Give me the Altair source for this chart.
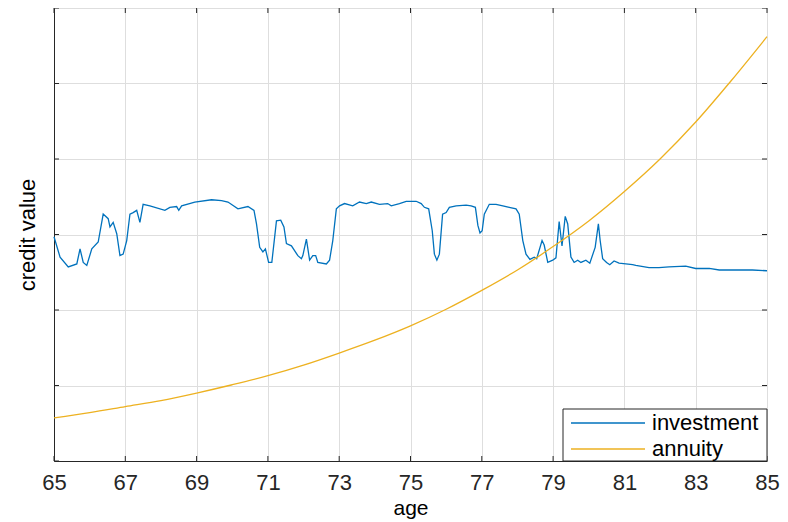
import altair as alt
import pandas as pd

# investment series (age, credit value)
inv_age = [65.00, 65.17, 65.40, 65.64, 65.73, 65.82, 65.92, 66.06, 66.24, 66.38,
           66.52, 66.57, 66.66, 66.76, 66.85, 66.94, 67.04, 67.13, 67.22, 67.32,
           67.41, 67.50, 67.69, 68.11, 68.25, 68.44, 68.50, 68.58, 68.95, 69.42,
           69.70, 69.88, 70.16, 70.44, 70.61, 70.68, 70.77, 70.86, 70.93, 71.02,
           71.11, 71.24, 71.36, 71.45, 71.52, 71.66, 71.84, 71.94, 71.98, 72.08,
           72.17, 72.26, 72.34, 72.40, 72.64, 72.73, 72.82, 72.92, 73.01, 73.15,
           73.38, 73.57, 73.76, 73.90, 74.13, 74.36, 74.46, 74.69, 74.88, 75.16,
           75.30, 75.39, 75.51, 75.61, 75.67, 75.74, 75.81, 75.90, 76.00, 76.09,
           76.28, 76.56, 76.70, 76.82, 76.89, 76.95, 77.01, 77.07, 77.21, 77.40,
           77.59, 77.77, 77.96, 78.05, 78.15, 78.24, 78.35, 78.47, 78.54, 78.69,
           78.75, 78.85, 78.99, 79.08, 79.17, 79.25, 79.34, 79.41, 79.50, 79.59,
           79.69, 79.78, 79.92, 80.03, 80.18, 80.27, 80.32, 80.39, 80.50, 80.59,
           80.71, 80.85, 81.04, 81.23, 81.32, 81.69, 81.97, 82.25, 82.72, 83.00,
           83.38, 83.66, 84.12, 84.59, 85.00]
inv_val = [2.97, 2.70, 2.57, 2.61, 2.81, 2.63, 2.59, 2.81, 2.90, 3.27,
           3.21, 3.10, 3.16, 3.01, 2.72, 2.74, 2.92, 3.27, 3.29, 3.32,
           3.16, 3.40, 3.38, 3.32, 3.36, 3.37, 3.32, 3.38, 3.43, 3.46,
           3.45, 3.43, 3.34, 3.37, 3.32, 3.14, 2.83, 2.77, 2.81, 2.63,
           2.63, 3.18, 3.19, 3.10, 2.88, 2.85, 2.72, 2.68, 2.72, 2.94,
           2.66, 2.72, 2.72, 2.63, 2.61, 2.66, 2.92, 3.34, 3.38, 3.41,
           3.38, 3.43, 3.41, 3.43, 3.40, 3.41, 3.38, 3.41, 3.44, 3.44,
           3.41, 3.36, 3.34, 3.05, 2.74, 2.66, 2.74, 3.27, 3.29, 3.36,
           3.38, 3.39, 3.38, 3.36, 3.12, 3.02, 3.05, 3.27, 3.40, 3.40,
           3.38, 3.36, 3.34, 3.27, 2.92, 2.74, 2.67, 2.70, 2.68, 2.92,
           2.86, 2.63, 2.66, 2.69, 3.17, 2.85, 3.24, 3.14, 2.70, 2.63,
           2.66, 2.63, 2.66, 2.62, 2.83, 3.14, 2.92, 2.68, 2.63, 2.60,
           2.65, 2.62, 2.61, 2.60, 2.59, 2.56, 2.56, 2.57, 2.58, 2.55,
           2.55, 2.53, 2.53, 2.53, 2.52]

# annuity series read at each year
ann_age = list(range(65, 86))
ann_val = [0.57, 0.64, 0.72, 0.80, 0.90, 1.01, 1.13, 1.27, 1.43, 1.60,
           1.79, 2.01, 2.26, 2.53, 2.84, 3.18, 3.57, 4.00, 4.49, 5.04, 5.62]

series_names = ["investment", "annuity"]
series_colors = ["#0072BD", "#EDB120"]

x_ticks = [65, 67, 69, 71, 73, 75, 77, 79, 81, 83, 85]
y_ticks = [0, 1, 2, 3, 4, 5, 6]

W, H = 713, 453
FONT = "Liberation Sans"
AX = "#262626"

inv_df = pd.DataFrame({"age": inv_age, "value": inv_val})
ann_df = pd.DataFrame({"age": ann_age, "value": ann_val})
xt_df = pd.DataFrame({"age": x_ticks})
yt_df = pd.DataFrame({"value": y_ticks})

x_scale = alt.Scale(domain=[65, 85], nice=False, zero=False)
y_scale = alt.Scale(domain=[0, 6], nice=False, zero=False)

x_axis = alt.Axis(values=x_ticks, grid=True, gridColor="#dedede", tickSize=0,
                  labelFont=FONT, labelFontSize=22, labelColor=AX, labelPadding=11,
                  domainColor=AX, title="age", titleFont=FONT, titleFontSize=21,
                  titleFontWeight="normal", titleColor="#000000", titlePadding=4,
                  labelFlush=False)
y_axis = alt.Axis(values=y_ticks, grid=True, gridColor="#dedede", tickSize=0,
                  labels=False, domainColor=AX, title="credit value",
                  titleFont=FONT, titleFontSize=22, titleFontWeight="normal",
                  titleColor="#000000", titlePadding=14)

inv = alt.Chart(inv_df).mark_line(color=series_colors[0], strokeWidth=1.3).encode(
    x=alt.X("age:Q", scale=x_scale, axis=x_axis),
    y=alt.Y("value:Q", scale=y_scale, axis=y_axis),
)
ann = alt.Chart(ann_df).mark_line(color=series_colors[1], strokeWidth=1.3,
                                  interpolate="monotone").encode(
    x=alt.X("age:Q", scale=x_scale, axis=x_axis),
    y=alt.Y("value:Q", scale=y_scale, axis=y_axis),
)

# inward ticks on all four sides
xt_bot = alt.Chart(xt_df).mark_rule(color=AX, strokeWidth=1).encode(
    x=alt.X("age:Q", scale=x_scale, axis=x_axis), y=alt.value(H), y2=alt.value(H - 5))
xt_top = alt.Chart(xt_df).mark_rule(color=AX, strokeWidth=1).encode(
    x=alt.X("age:Q", scale=x_scale, axis=x_axis), y=alt.value(0), y2=alt.value(5))
yt_left = alt.Chart(yt_df).mark_rule(color=AX, strokeWidth=1).encode(
    y=alt.Y("value:Q", scale=y_scale, axis=y_axis), x=alt.value(0), x2=alt.value(5))
yt_right = alt.Chart(yt_df).mark_rule(color=AX, strokeWidth=1).encode(
    y=alt.Y("value:Q", scale=y_scale, axis=y_axis), x=alt.value(W), x2=alt.value(W - 5))

# legend box drawn manually (bottom-right inside the plot)
lg_df = pd.DataFrame({"label": ["legend"]})
lx0, lx1, ly0, ly1 = 509, W, 401, H
leg_box = alt.Chart(lg_df).mark_rect(fill="white", stroke=AX, strokeWidth=1).encode(
    x=alt.value(lx0), x2=alt.value(lx1), y=alt.value(ly0), y2=alt.value(ly1))
layers = [inv, ann, xt_bot, xt_top, yt_left, yt_right, leg_box]
for i, name in enumerate(series_names):
    ypix = 415 + 26 * i
    d = pd.DataFrame({"label": [name]})
    layers.append(alt.Chart(d).mark_rule(color=series_colors[i], strokeWidth=1.3).encode(
        x=alt.value(517), x2=alt.value(591), y=alt.value(ypix)))
    layers.append(alt.Chart(d).mark_text(align="left", baseline="middle", font=FONT,
                                         fontSize=22, color="#000000").encode(
        x=alt.value(598), y=alt.value(ypix), text="label:N"))

chart = alt.layer(*layers).properties(
    width=W, height=H,
    autosize=alt.AutoSizeParams(type="none"),
    padding={"left": 46, "top": 0, "right": 13, "bottom": 60},
).configure_view(stroke=AX, strokeWidth=1).configure(background="white")

chart.save("out.html", embed_options={"renderer": "svg", "actions": False})
